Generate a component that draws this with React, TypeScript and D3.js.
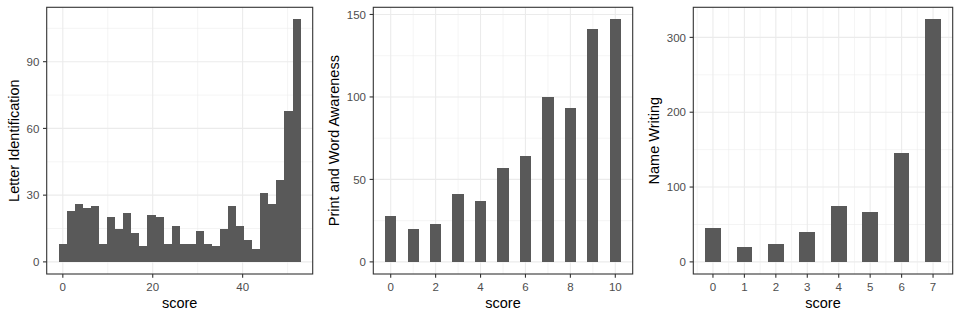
import React from "react";
import * as d3 from "d3";

// ---- Data ----
// Panel 1: histogram of Letter Identification scores (30 bins over 0..52)
const letterScoreMin = 0;
const letterScoreMax = 52;
const letterBins = 30;
const letterCounts = [8, 23, 26, 24, 25, 8, 20, 15, 22, 13, 7, 21, 20, 8, 16, 8, 8, 14, 8, 7, 15, 25, 16, 10, 6, 31, 26, 37, 68, 109];
const letterXTicks = [0, 20, 40];
const letterXMinor = [10, 30, 50];
const letterYTicks = [0, 30, 60, 90];
const letterYMinor = [15, 45, 75, 105];

// Panel 2: Print and Word Awareness
const printScores = [0, 1, 2, 3, 4, 5, 6, 7, 8, 9, 10];
const printCounts = [28, 20, 23, 41, 37, 57, 64, 100, 93, 141, 147];
const printXTicks = [0, 2, 4, 6, 8, 10];
const printXMinor = [1, 3, 5, 7, 9];
const printYTicks = [0, 50, 100, 150];
const printYMinor = [25, 75, 125];

// Panel 3: Name Writing
const nameScores = [0, 1, 2, 3, 4, 5, 6, 7];
const nameCounts = [45, 20, 24, 40, 75, 67, 146, 324];
const nameXTicks = [0, 1, 2, 3, 4, 5, 6, 7];
const nameXMinor = [-0.5, 0.5, 1.5, 2.5, 3.5, 4.5, 5.5, 6.5, 7.5];
const nameYTicks = [0, 100, 200, 300];
const nameYMinor = [50, 150, 250];

const yTitles = ["Letter Identification", "Print and Word Awareness", "Name Writing"];
const xTitle = "score";

// ---- Styling ----
const FONT = "'Liberation Sans', Arial, Helvetica, sans-serif";
const BAR = "#595959";
const GRID = "#EBEBEB";
const BORDER = "#333333";
const TICKLAB = "#4D4D4D";

const TOP = 7.3;
const BOTTOM = 274;

type Bar = { x0: number; x1: number; y: number };

interface PanelProps {
  offset: number;
  left: number;
  right: number;
  bars: Bar[];
  xTicks: number[];
  xMinor: number[];
  yTicks: number[];
  yMinor: number[];
  yTitle: string;
}

function Panel({ offset, left, right, bars, xTicks, xMinor, yTicks, yMinor, yTitle }: PanelProps) {
  const xmin = d3.min(bars, (b) => b.x0)!;
  const xmax = d3.max(bars, (b) => b.x1)!;
  const xpad = (xmax - xmin) * 0.05;
  const ymax = d3.max(bars, (b) => b.y)!;
  const ypad = ymax * 0.05;
  const x = d3.scaleLinear().domain([xmin - xpad, xmax + xpad]).range([left, right]);
  const y = d3.scaleLinear().domain([-ypad, ymax + ypad]).range([BOTTOM, TOP]);
  const inX = (v: number) => x(v) >= left && x(v) <= right;
  const cx = (left + right) / 2;
  const cy = (TOP + BOTTOM) / 2;
  return (
    <g>
      <rect x={left} y={TOP} width={right - left} height={BOTTOM - TOP} fill="#FFFFFF" />
      {yMinor.map((v) => (
        <line key={"ym" + v} x1={left} x2={right} y1={y(v)} y2={y(v)} stroke={GRID} strokeWidth={0.55} />
      ))}
      {xMinor.filter(inX).map((v) => (
        <line key={"xm" + v} x1={x(v)} x2={x(v)} y1={TOP} y2={BOTTOM} stroke={GRID} strokeWidth={0.55} />
      ))}
      {yTicks.map((v) => (
        <line key={"yM" + v} x1={left} x2={right} y1={y(v)} y2={y(v)} stroke={GRID} strokeWidth={1.1} />
      ))}
      {xTicks.map((v) => (
        <line key={"xM" + v} x1={x(v)} x2={x(v)} y1={TOP} y2={BOTTOM} stroke={GRID} strokeWidth={1.1} />
      ))}
      {bars.map((b, i) => (
        <rect
          key={i}
          x={x(b.x0)}
          y={y(b.y)}
          width={x(b.x1) - x(b.x0)}
          height={y(0) - y(b.y)}
          fill={BAR}
          shapeRendering="crispEdges"
        />
      ))}
      <rect x={left} y={TOP} width={right - left} height={BOTTOM - TOP} fill="none" stroke={BORDER} strokeWidth={1.1} />
      {yTicks.map((v) => (
        <g key={"yt" + v}>
          <line x1={left - 3.7} x2={left} y1={y(v)} y2={y(v)} stroke={BORDER} strokeWidth={1.1} />
          <text x={left - 7.3} y={y(v)} dy="0.36em" textAnchor="end" fontSize={11.5} fill={TICKLAB} fontFamily={FONT}>
            {v}
          </text>
        </g>
      ))}
      {xTicks.map((v) => (
        <g key={"xt" + v}>
          <line x1={x(v)} x2={x(v)} y1={BOTTOM} y2={BOTTOM + 3.7} stroke={BORDER} strokeWidth={1.1} />
          <text x={x(v)} y={291} textAnchor="middle" fontSize={11.5} fill={TICKLAB} fontFamily={FONT}>
            {v}
          </text>
        </g>
      ))}
      <text x={cx} y={308.3} textAnchor="middle" fontSize={14.5} fill="#000" fontFamily={FONT}>
        {xTitle}
      </text>
      <text
        transform={`translate(${offset + 18.6},${cy}) rotate(-90)`}
        textAnchor="middle"
        fontSize={14.5}
        fill="#000"
        fontFamily={FONT}
      >
        {yTitle}
      </text>
    </g>
  );
}

export default function App() {
  const bw = (letterScoreMax - letterScoreMin) / (letterBins - 1);
  const letterBars: Bar[] = letterCounts.map((c, i) => ({
    x0: letterScoreMin + (i - 0.5) * bw,
    x1: letterScoreMin + (i + 0.5) * bw,
    y: c,
  }));
  const printBars: Bar[] = printScores.map((s, i) => ({ x0: s - 0.25, x1: s + 0.25, y: printCounts[i] }));
  const nameBars: Bar[] = nameScores.map((s, i) => ({ x0: s - 0.25, x1: s + 0.25, y: nameCounts[i] }));

  return (
    <div style={{ position: "absolute", left: 0, top: 0 }}>
      <svg width={960} height={320} style={{ display: "block", background: "#FFFFFF" }}>
        <rect width={960} height={320} fill="#FFFFFF" />
        <Panel
          offset={0}
          left={46.7}
          right={312.7}
          bars={letterBars}
          xTicks={letterXTicks}
          xMinor={letterXMinor}
          yTicks={letterYTicks}
          yMinor={letterYMinor}
          yTitle={yTitles[0]}
        />
        <Panel
          offset={320}
          left={373.3}
          right={632.7}
          bars={printBars}
          xTicks={printXTicks}
          xMinor={printXMinor}
          yTicks={printYTicks}
          yMinor={printYMinor}
          yTitle={yTitles[1]}
        />
        <Panel
          offset={640}
          left={693.3}
          right={952.7}
          bars={nameBars}
          xTicks={nameXTicks}
          xMinor={nameXMinor}
          yTicks={nameYTicks}
          yMinor={nameYMinor}
          yTitle={yTitles[2]}
        />
      </svg>
    </div>
  );
}
